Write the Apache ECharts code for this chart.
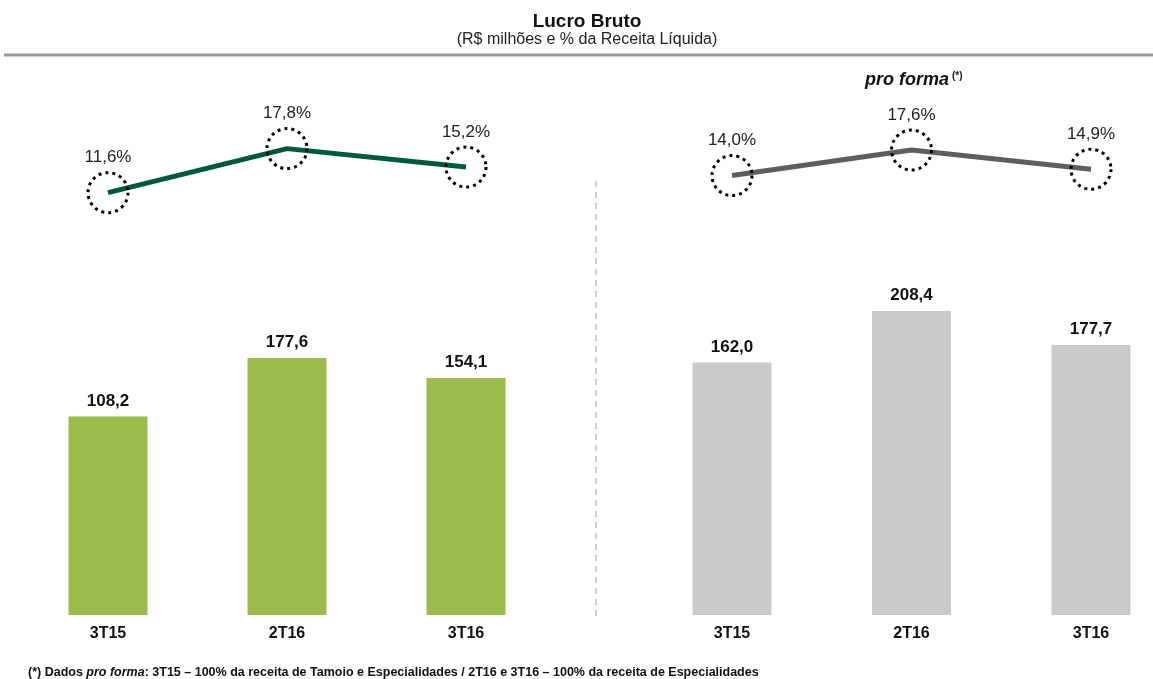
<!DOCTYPE html>
<html>
<head>
<meta charset="utf-8">
<script src="https://cdn.jsdelivr.net/npm/echarts@6/dist/echarts.min.js"></script>
<style>
  html, body { margin: 0; padding: 0; background: #fff; }
  #main { width: 1153px; height: 679px; }
</style>
</head>
<body>
<div id="main"></div>
<script>
// dados (R$ milhões e % da receita líquida)
var categories = ['3T15', '2T16', '3T16'];
var lucroBruto = [108.2, 177.6, 154.1];
var lucroProForma = [162.0, 208.4, 177.7];
var margem = [11.6, 17.8, 15.2];
var margemProForma = [14.0, 17.6, 14.9];

var FONT = '"Liberation Sans", Arial, sans-serif';

function fmt(v) { return v.toFixed(1).replace('.', ','); }

function catAxis(grid, show) {
  return {
    type: 'category', gridIndex: grid, data: categories, boundaryGap: false,
    axisLine: { show: false }, axisTick: { show: false }, splitLine: { show: false },
    axisLabel: show ? { show: true, margin: 11, fontSize: 16, fontWeight: 'bold', color: '#111', fontFamily: FONT } : { show: false }
  };
}
function valAxis(grid, min, max) {
  return {
    type: 'value', gridIndex: grid, min: min, max: max, startValue: min,
    axisLine: { show: false }, axisTick: { show: false }, axisLabel: { show: false }, splitLine: { show: false }
  };
}

function barSeries(idx, data, color) {
  return {
    type: 'bar', xAxisIndex: idx, yAxisIndex: idx, data: data, barWidth: 79, clip: false,
    itemStyle: { color: color },
    label: { show: true, position: 'top', distance: 7, fontSize: 17, fontWeight: 'bold', color: '#111', fontFamily: FONT,
      formatter: function (p) { return fmt(p.value); } }
  };
}
function lineSeries(idx, data, color) {
  return {
    type: 'line', xAxisIndex: idx, yAxisIndex: idx, data: data, clip: false,
    lineStyle: { color: color, width: 5 },
    symbol: 'circle', symbolSize: 40,
    itemStyle: { color: 'rgba(0,0,0,0)', borderColor: '#000', borderWidth: 3, borderType: [3, 4] },
    label: { show: true, position: 'top', distance: 5, fontSize: 17, color: '#222', fontFamily: FONT,
      formatter: function (p) { return fmt(p.value) + '%'; } },
    z: 3
  };
}

var chart = echarts.init(document.getElementById('main'));
chart.setOption({
  animation: false,
  textStyle: { fontFamily: FONT },
  grid: [
    { left: 108, width: 358, top: 297, bottom: 64 },
    { left: 732, width: 359, top: 265, bottom: 64 },
    { left: 108, width: 358, top: 133, height: 142 },
    { left: 732, width: 359, top: 133, height: 142 }
  ],
  xAxis: [catAxis(0, true), catAxis(1, true), catAxis(2, false), catAxis(3, false)],
  yAxis: [valAxis(0, -127, 250), valAxis(1, -66, 250), valAxis(2, 0, 20), valAxis(3, 0, 20)],
  series: [
    barSeries(0, lucroBruto, '#9BBB4A'),
    barSeries(1, lucroProForma, '#C9C9C9'),
    lineSeries(2, margem, '#00593A'),
    lineSeries(3, margemProForma, '#5E5E5E')
  ],
  graphic: [
    { type: 'text', x: 587, y: 22, style: { text: 'Lucro Bruto', align: 'center', verticalAlign: 'middle',
        fontSize: 19, fontWeight: 'bold', fill: '#111', fontFamily: FONT } },
    { type: 'text', x: 587, y: 40, style: { text: '(R$ milhões e % da Receita Líquida)', align: 'center', verticalAlign: 'middle',
        fontSize: 16, fill: '#222', fontFamily: FONT } },
    { type: 'line', shape: { x1: 4, y1: 55, x2: 1153, y2: 55 }, style: { stroke: '#9a9a9a', lineWidth: 3 } },
    { type: 'line', shape: { x1: 596, y1: 181, x2: 596, y2: 616 }, style: { stroke: '#cfcfcf', lineWidth: 2, lineDash: [6, 5] } },
    { type: 'text', x: 865, y: 80, style: {
        text: '{a|pro forma}{b|(*)}', verticalAlign: 'middle',
        rich: {
          a: { fontSize: 18, fontWeight: 'bold', fontStyle: 'italic', fill: '#111', fontFamily: FONT },
          b: { fontSize: 10, fontWeight: 'bold', fill: '#111', fontFamily: FONT, padding: [0, 0, 7, 3] }
        } } },
    { type: 'text', x: 28, y: 673, style: {
        text: '{n|(*) Dados }{i|pro forma}{n|: 3T15 – 100% da receita de Tamoio e Especialidades / 2T16 e 3T16 – 100% da receita de Especialidades}',
        verticalAlign: 'middle',
        rich: {
          n: { fontSize: 12.5, fontWeight: 'bold', fill: '#111', fontFamily: FONT },
          i: { fontSize: 12.5, fontWeight: 'bold', fontStyle: 'italic', fill: '#111', fontFamily: FONT }
        } } }
  ]
});
</script>
</body>
</html>
